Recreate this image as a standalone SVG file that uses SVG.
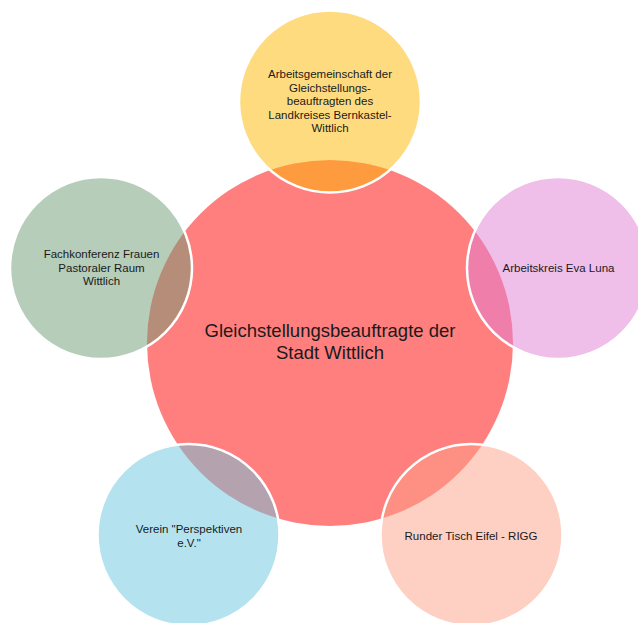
<svg xmlns="http://www.w3.org/2000/svg" width="638" height="623" viewBox="0 0 638 623">
<style>
  .sat { fill-opacity: 0.5; stroke: #ffffff; stroke-width: 2.5; }
  .t { font-family: "Liberation Sans", Arial, sans-serif; fill: #1a1a1a; text-anchor: middle; }
  .s { font-size: 11.5px; }
  .c { font-size: 18.5px; }
</style>
<rect width="638" height="623" fill="#ffffff"/>
<g id="center">
  <circle cx="330" cy="343" r="183" fill="#ff0000" fill-opacity="0.5"/>
  <text class="t c" x="330" y="337">Gleichstellungsbeauftragte der</text>
  <text class="t c" x="330" y="359">Stadt Wittlich</text>
</g>
<g id="arbeitsgemeinschaft">
  <circle class="sat" cx="330" cy="101.5" r="91" fill="#ffb800"/>
  <text class="t s" x="330" y="78">Arbeitsgemeinschaft der</text>
  <text class="t s" x="330" y="91.5">Gleichstellungs-</text>
  <text class="t s" x="330" y="105">beauftragten des</text>
  <text class="t s" x="330" y="118.5">Landkreises Bernkastel-</text>
  <text class="t s" x="330" y="132">Wittlich</text>
</g>
<g id="eva-luna">
  <circle class="sat" cx="558" cy="268" r="91" fill="#df7fd5"/>
  <text class="t s" x="558.5" y="272">Arbeitskreis Eva Luna</text>
</g>
<g id="runder-tisch">
  <circle class="sat" cx="471.5" cy="535" r="91" fill="#fba187"/>
  <text class="t s" x="471" y="540">Runder Tisch Eifel - RIGG</text>
</g>
<g id="perspektiven">
  <circle class="sat" cx="188.5" cy="535" r="91" fill="#69c7df"/>
  <text class="t s" x="189" y="533">Verein "Perspektiven</text>
  <text class="t s" x="189" y="547">e.V."</text>
</g>
<g id="fachkonferenz">
  <circle class="sat" cx="101" cy="268" r="91" fill="#6b9b73"/>
  <text class="t s" x="101.5" y="258">Fachkonferenz Frauen</text>
  <text class="t s" x="101.5" y="271.5">Pastoraler Raum</text>
  <text class="t s" x="101.5" y="285">Wittlich</text>
</g>
</svg>
